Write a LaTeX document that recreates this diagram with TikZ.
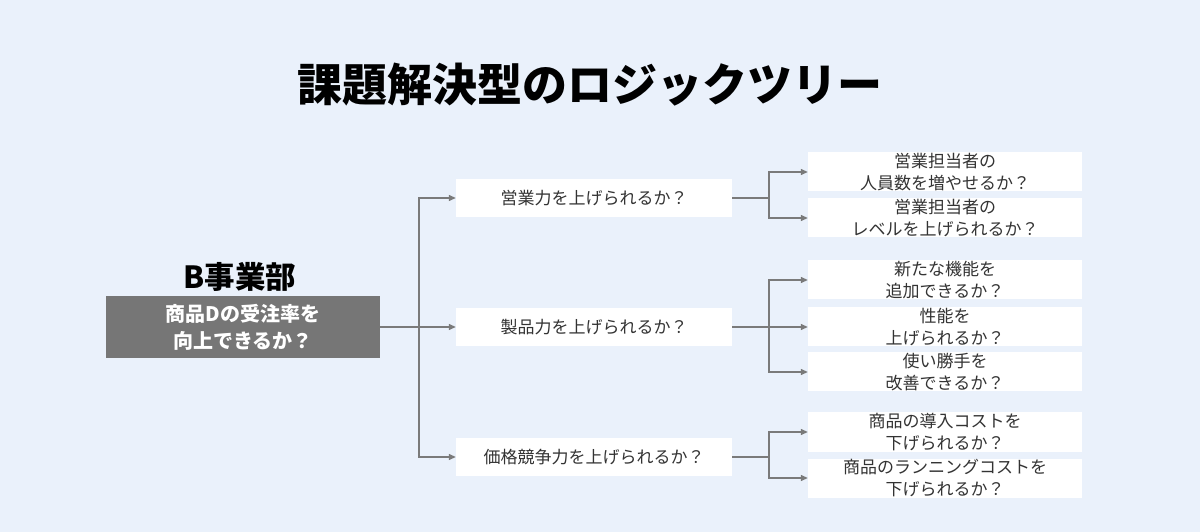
\documentclass[tikz,border=0pt]{standalone}
\usepackage{fontspec}
\setmainfont{Noto Sans CJK JP}
\usetikzlibrary{arrows.meta}
\definecolor{bg}{HTML}{EAF1FB}
\definecolor{rootgray}{HTML}{767676}
\definecolor{linegray}{HTML}{7A7A7A}
\definecolor{txt}{HTML}{333333}
\begin{document}
\begin{tikzpicture}[x=1bp,y=-1bp,
  midbox/.style={fill=white, inner sep=0pt, minimum width=276bp, minimum height=38bp, align=center, text=txt, font=\fontsize{17bp}{22bp}\selectfont},
  leafbox/.style={fill=white, inner sep=0pt, minimum width=274bp, minimum height=39bp, align=center, text=txt, font=\fontsize{17bp}{22.5bp}\selectfont},
  rootbox/.style={fill=rootgray, inner sep=0pt, minimum width=274bp, minimum height=62bp, align=center, text=white, font=\fontsize{20bp}{27bp}\selectfont\bfseries},
  conn/.style={draw=linegray, line width=1.3bp},
  arr/.style={conn, -{Triangle[length=7bp,width=6bp]}}
]
\fill[bg] (0,0) rectangle (1200,532);
\useasboundingbox (0,0) rectangle (1200,532);

\node[font=\fontsize{45bp}{50bp}\selectfont\bfseries, text=black] (title) at (590,85) {課題解決型のロジックツリー};

\node[font=\fontsize{30.5bp}{34bp}\selectfont\bfseries, text=black] (dept) at (240,277) {B事業部};
\node[rootbox] (root) at (243,327) {商品Dの受注率を\\向上できるか？};

\node[midbox] (m1) at (594,198) {営業力を上げられるか？};
\node[midbox] (m2) at (594,327) {製品力を上げられるか？};
\node[midbox] (m3) at (594,457) {価格競争力を上げられるか？};

\node[leafbox] (r1) at (945,172) {営業担当者の\\人員数を増やせるか？};
\node[leafbox] (r2) at (945,218) {営業担当者の\\レベルを上げられるか？};
\node[leafbox] (r3) at (945,280) {新たな機能を\\追加できるか？};
\node[leafbox] (r4) at (945,327) {性能を\\上げられるか？};
\node[leafbox] (r5) at (945,372) {使い勝手を\\改善できるか？};
\node[leafbox] (r6) at (945,432) {商品の導入コストを\\下げられるか？};
\node[leafbox] (r7) at (945,478) {商品のランニングコストを\\下げられるか？};

\coordinate (j0) at (419,327);
\draw[conn] (root.east) -- (j0);
\draw[arr] (j0) |- (m1.west);
\draw[arr] (j0) -- (m2.west);
\draw[arr] (j0) |- (m3.west);

\coordinate (j1) at (769,198);
\draw[conn] (m1.east) -- (j1);
\draw[arr] (j1) |- (r1.west);
\draw[arr] (j1) |- (r2.west);

\coordinate (j2) at (769,327);
\draw[conn] (m2.east) -- (j2);
\draw[arr] (j2) |- (r3.west);
\draw[arr] (j2) -- (r4.west);
\draw[arr] (j2) |- (r5.west);

\coordinate (j3) at (769,457);
\draw[conn] (m3.east) -- (j3);
\draw[arr] (j3) |- (r6.west);
\draw[arr] (j3) |- (r7.west);
\end{tikzpicture}
\end{document}
